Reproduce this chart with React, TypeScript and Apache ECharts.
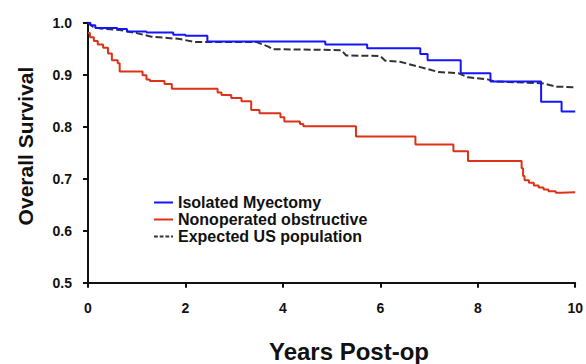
import React, { useEffect, useRef } from "react";
import * as echarts from "echarts";

const seriesNames = ["Isolated Myectomy", "Nonoperated obstructive", "Expected US population"];

const myectomy: [number, number][] = [
  [0, 1.0], [0.05, 0.995], [0.15, 0.99], [0.6, 0.988], [0.8, 0.983], [1.2, 0.981],
  [1.75, 0.977], [2.0, 0.975], [2.45, 0.964], [4.87, 0.958], [5.73, 0.951],
  [6.82, 0.94], [6.97, 0.928], [7.65, 0.903], [8.26, 0.887], [9.3, 0.848],
  [9.72, 0.829], [10, 0.829],
];

const nonoperated: [number, number][] = [
  [0, 0.98], [0.04, 0.972], [0.12, 0.965], [0.2, 0.958], [0.31, 0.952], [0.41, 0.941],
  [0.49, 0.928], [0.61, 0.922], [0.65, 0.906], [1.12, 0.899], [1.2, 0.891], [1.27, 0.888],
  [1.57, 0.882], [1.72, 0.873], [2.66, 0.866], [2.74, 0.861], [2.94, 0.855], [3.15, 0.849],
  [3.35, 0.832], [3.52, 0.826], [3.95, 0.818], [4.03, 0.81], [4.35, 0.805], [4.42, 0.801],
  [5.5, 0.781], [6.72, 0.766], [7.5, 0.753], [7.8, 0.734], [8.9, 0.72], [8.93, 0.705],
  [8.96, 0.697], [9.05, 0.692], [9.15, 0.687], [9.25, 0.683], [9.35, 0.679], [9.45, 0.676],
  [9.6, 0.673], [9.7, 0.674], [10, 0.674],
];

const expected: [number, number][] = [
  [0, 1.0], [0.1, 0.992], [0.25, 0.989], [0.65, 0.986], [1.0, 0.98], [1.3, 0.973],
  [1.85, 0.969], [2.2, 0.963], [3.45, 0.963], [3.7, 0.954], [3.8, 0.949], [4.75, 0.948],
  [5.2, 0.947], [5.3, 0.937], [6.0, 0.936], [6.1, 0.927], [6.4, 0.925], [6.8, 0.915],
  [7.2, 0.905], [7.6, 0.903], [7.8, 0.895], [8.2, 0.891], [8.35, 0.887], [9.2, 0.884],
  [9.35, 0.883], [9.6, 0.877], [10, 0.876],
];

const xTitle = "Years Post-op";
const yTitle = "Overall Survival";

const FONT = "'Liberation Sans', Arial, Helvetica, sans-serif";

const BLUE = "#1414ff";
const RED = "#dc3218";
const DARK = "#333";

export default function App() {
  const ref = useRef<HTMLDivElement>(null);
  useEffect(() => {
    if (!ref.current) return;
    const chart = echarts.init(ref.current, undefined, { renderer: "svg" });
    const axisCommon = {
      axisLine: { show: true, lineStyle: { color: "#111", width: 2 } },
      axisTick: { show: true, inside: false, length: 5, lineStyle: { color: "#111", width: 2 } },
      splitLine: { show: false },
    };
    chart.setOption({
      animation: false,
      backgroundColor: "#fff",
      textStyle: { fontFamily: FONT },
      grid: { left: 88, right: 9, top: 22.7, bottom: 81.3, containLabel: false },
      xAxis: {
        type: "value",
        min: 0,
        max: 10,
        interval: 2,
        ...axisCommon,
        axisLabel: { margin: 18, fontSize: 14, fontWeight: "bold", color: "#111", fontFamily: FONT },
      },
      yAxis: {
        type: "value",
        min: 0.5,
        max: 1.0,
        interval: 0.1,
        ...axisCommon,
        axisLabel: {
          margin: 16,
          fontSize: 14,
          fontWeight: "bold",
          color: "#111",
          fontFamily: FONT,
          formatter: (v: number) => v.toFixed(1),
        },
      },
      legend: {
        orient: "vertical",
        left: 154,
        top: 194,
        itemWidth: 19,
        itemHeight: 2,
        itemGap: 0,
        padding: 0,
        symbolKeepAspect: false,
        textStyle: {
          fontSize: 16,
          fontWeight: "bold",
          color: "#111",
          fontFamily: FONT,
          lineHeight: 17,
        },
        data: [
          { name: seriesNames[0], icon: "rect", itemStyle: { color: BLUE } },
          { name: seriesNames[1], icon: "rect", itemStyle: { color: RED } },
          {
            name: seriesNames[2],
            icon: "path://M0,0h4v1h-4z M6,0h4v1h-4z M12,0h4v1h-4z M18,0h2v1h-2z",
            itemStyle: { color: DARK },
          },
        ],
      },
      graphic: [
        {
          type: "text",
          x: 25,
          y: 146,
          rotation: Math.PI / 2,
          style: {
            text: yTitle,
            fontSize: 21,
            fontWeight: "bold",
            fill: "#111",
            fontFamily: FONT,
            align: "center",
            verticalAlign: "middle",
          },
        },
        {
          type: "text",
          x: 349,
          y: 351,
          style: {
            text: xTitle,
            fontSize: 24,
            fontWeight: "bold",
            fill: "#111",
            fontFamily: FONT,
            align: "center",
            verticalAlign: "middle",
          },
        },
      ],
      series: [
        {
          name: seriesNames[0],
          type: "line",
          step: "end",
          data: myectomy,
          symbol: "none",
          color: BLUE,
          lineStyle: { color: BLUE, width: 2 },
          z: 3,
        },
        {
          name: seriesNames[1],
          type: "line",
          step: "end",
          data: nonoperated,
          symbol: "none",
          color: RED,
          lineStyle: { color: RED, width: 2 },
          z: 3,
        },
        {
          name: seriesNames[2],
          type: "line",
          data: expected,
          symbol: "none",
          color: DARK,
          lineStyle: { color: DARK, width: 2, type: [7, 3] },
          z: 2,
        },
      ],
    });
    return () => chart.dispose();
  }, []);
  return (
    <div
      ref={ref}
      style={{ position: "fixed", left: 0, top: 0, width: 586, height: 364 }}
    />
  );
}
